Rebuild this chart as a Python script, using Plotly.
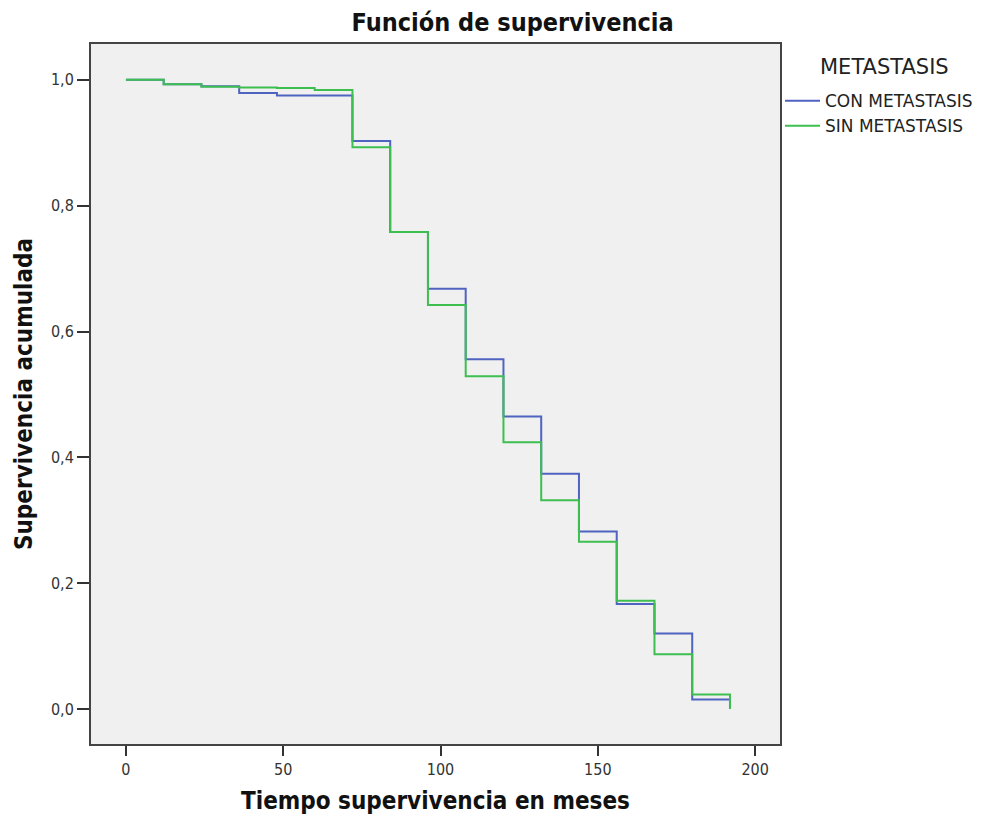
import plotly.graph_objects as go

months = [0, 12, 24, 36, 48, 60, 72, 84, 96, 108, 120, 132, 144, 156, 168, 180, 192]
con_metastasis = [1.0, 0.993, 0.990, 0.979, 0.975, 0.975, 0.903, 0.758, 0.668, 0.556,
                  0.465, 0.374, 0.282, 0.167, 0.120, 0.015, 0.0]
sin_metastasis = [1.0, 0.993, 0.989, 0.988, 0.987, 0.984, 0.893, 0.758, 0.642, 0.529,
                  0.424, 0.332, 0.266, 0.172, 0.087, 0.023, 0.0]

x_ticks = [0, 50, 100, 150, 200]
y_ticks = [0.0, 0.2, 0.4, 0.6, 0.8, 1.0]

cond = "DejaVu Sans Condensed, DejaVu Sans, sans-serif"
reg = "DejaVu Sans, sans-serif"

fig = go.Figure()
fig.add_trace(go.Scatter(x=months, y=con_metastasis, mode="lines", name="CON METASTASIS",
                         line=dict(shape="hv", color="#4f63c0", width=2)))
fig.add_trace(go.Scatter(x=months, y=sin_metastasis, mode="lines", name="SIN METASTASIS",
                         line=dict(shape="hv", color="#3dbf4f", width=2)))

fig.update_layout(
    width=982, height=824,
    margin=dict(l=91, r=202, t=44, b=80, autoexpand=False),
    paper_bgcolor="white",
    plot_bgcolor="#f0f0f0",
    separators=",.",
    font=dict(family=cond, color="#222"),
    title=dict(text="<b>Función de supervivencia</b>", x=0.522, xanchor="center",
               y=0.973, yanchor="middle", font=dict(size=25, color="#111")),
    legend=dict(x=1.0, xanchor="left", y=0.944, yanchor="top", xref="paper", yref="paper",
                font=dict(family=reg, size=17, color="#222"), tracegroupgap=0,
                bgcolor="rgba(0,0,0,0)", itemwidth=35),
    showlegend=True,
    annotations=[dict(text="METASTASIS", x=1.0552, y=0.967, xref="paper", yref="paper",
                      xanchor="left", yanchor="middle", showarrow=False,
                      font=dict(family=reg, size=21, color="#222"))],
)
fig.update_xaxes(range=[-11.1, 207.9], tickvals=x_ticks, ticks="outside", ticklen=10,
                 tickcolor="#333", tickwidth=1.5, showgrid=False, zeroline=False,
                 showline=True, mirror=True, linecolor="#444", linewidth=2,
                 tickfont=dict(size=16, color="#333"),
                 title=dict(text="<b>Tiempo supervivencia en meses</b>", font=dict(size=24, color="#111"),
                            standoff=14))
fig.update_yaxes(range=[-0.0556, 1.057], tickvals=y_ticks, tickformat=".1f", ticks="outside",
                 ticklen=12, tickcolor="#333", tickwidth=1.5, showgrid=False, zeroline=False,
                 showline=True, mirror=True, linecolor="#444", linewidth=2,
                 tickfont=dict(size=16, color="#333"),
                 title=dict(text="<b>Supervivencia acumulada</b>", font=dict(size=24, color="#111"),
                            standoff=12))

fig.write_html("out.html")
